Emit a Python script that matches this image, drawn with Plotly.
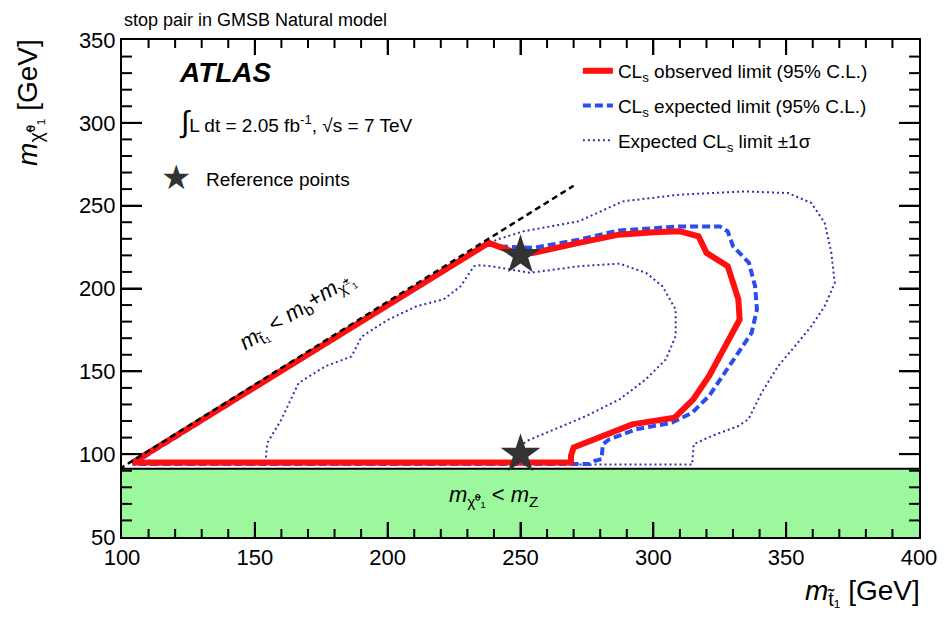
import plotly.graph_objects as go

# ---------------- data ----------------
x_range = [100, 400]
y_range = [50, 350]
m_Z = 91.2

# green excluded band (m_chi < m_Z)
band_x = [100, 400, 400, 100, 100]
band_y = [50, 50, m_Z, m_Z, 50]
mz_line_x = [100, 400]
mz_line_y = [m_Z, m_Z]

# kinematic limit m_stop < m_b + m_chargino
kin_x = [99, 270]
kin_y = [91, 262]

# observed CLs limit (95% C.L.)
obs_x = [104, 238, 250, 255, 272, 287, 300, 310, 317, 320, 328, 332, 332.5, 327, 321,
         315, 308, 292, 281, 270, 269, 269, 104]
obs_y = [95, 227.5, 220.5, 221.5, 227.5, 232.5, 234, 234.5, 231.5, 221.5, 213.5, 193.4,
         181.3, 165.2, 147.2, 133, 122, 118, 111, 104, 99, 95, 95]

# expected CLs limit (95% C.L.)
exp_x = [104, 238, 241, 255, 272, 287, 310, 325, 328, 330, 336, 338.3, 339, 337, 332,
         326, 321, 314.6, 307, 293.5, 283.5, 281, 280.5, 278, 276, 104]
exp_y = [94, 228, 225.5, 224.5, 229.5, 235, 237.5, 237.5, 234.5, 225.5, 215.5, 201.4,
         187.3, 173.3, 161.3, 147.2, 135.2, 125, 119, 115, 109, 106, 97, 96, 94, 94]

# expected limit +1 sigma (outer)
up_x = [104, 241, 251, 272, 288.5, 309.7, 334.6, 350.8, 359.5, 364.5, 367, 368.3, 364.5,
        359.5, 353.3, 347, 340.8, 335.8, 332, 322, 315.2, 314.6, 314.6, 104]
up_y = [94, 229.5, 234.5, 240.6, 252.6, 256.6, 258.6, 257.6, 251.6, 239.6, 221.5, 203.4,
        189.4, 177.3, 165.2, 153.2, 137.2, 121.1, 117, 111, 106, 95, 93.7, 93.7]

# expected limit -1 sigma (inner)
dn_x = [154, 154.7, 160, 166.5, 176.5, 186.4, 190.2, 200, 211, 221, 227.5, 232.5, 235,
        238.7, 253.6, 272.3, 287.3, 297.2, 303.4, 308.4, 308.4, 304.7, 297.2, 287.3,
        274.8, 262.4, 252.4, 250, 250, 154]
dn_y = [95, 106.7, 121, 143, 153, 159, 171, 181, 189.4, 193.4, 201.4, 213.5, 214, 213.5,
        209.5, 213.5, 215, 209.5, 201.4, 187.3, 171.3, 157.2, 145.2, 133.1, 123.1, 115,
        108, 105, 95, 95]

# reference points
ref_x = [250, 250]
ref_y = [220, 100]

x_ticks = [100, 150, 200, 250, 300, 350, 400]
y_ticks = [50, 100, 150, 200, 250, 300, 350]
x_minor_step = 10
y_minor_step = 10

FONT = "Liberation Sans"
RED = "#ff1010"
BLUE = "#2a4df0"
NAVY = "#3030b0"

fig = go.Figure()

fig.add_trace(go.Scatter(x=band_x, y=band_y, fill="toself", fillcolor="#9cf89c",
                         line=dict(width=0), mode="lines", showlegend=False, hoverinfo="skip"))
fig.add_trace(go.Scatter(x=mz_line_x, y=mz_line_y, mode="lines",
                         line=dict(color="black", width=2), showlegend=False))

fig.add_trace(go.Scatter(x=up_x, y=up_y, mode="lines", name="Expected CL<sub>s</sub> limit ±1σ",
                         line=dict(color=NAVY, width=2, dash="2px,3px"),
                         legendgroup="c", legendrank=3))
fig.add_trace(go.Scatter(x=dn_x, y=dn_y, mode="lines", showlegend=False,
                         line=dict(color=NAVY, width=2, dash="2px,3px"), legendgroup="c"))
fig.add_trace(go.Scatter(x=exp_x, y=exp_y, mode="lines",
                         name="CL<sub>s</sub> expected limit (95% C.L.)",
                         line=dict(color=BLUE, width=4, dash="8px,4px"),
                         legendgroup="b", legendrank=2))
fig.add_trace(go.Scatter(x=obs_x, y=obs_y, mode="lines",
                         name="CL<sub>s</sub> observed limit (95% C.L.)",
                         line=dict(color=RED, width=6),
                         legendgroup="a", legendrank=1))
fig.add_trace(go.Scatter(x=kin_x, y=kin_y, mode="lines", showlegend=False,
                         line=dict(color="black", width=2.5, dash="6px,4px")))
fig.add_trace(go.Scatter(x=ref_x, y=ref_y, mode="markers", showlegend=False,
                         marker=dict(symbol="star", size=30, color="#333333",
                                     line=dict(width=0))))

fig.update_layout(
    xaxis=dict(range=x_range, tickvals=x_ticks, ticks="inside", ticklen=15, tickwidth=2,
               tickcolor="black", showline=True, linecolor="black", linewidth=2,
               mirror="ticks", showgrid=False, zeroline=False,
               tickfont=dict(family=FONT, size=22, color="black")),
    yaxis=dict(range=y_range, tickvals=y_ticks, ticks="inside", ticklen=20, tickwidth=2,
               tickcolor="black", showline=True, linecolor="black", linewidth=2,
               mirror="ticks", showgrid=False, zeroline=False,
               tickfont=dict(family=FONT, size=22, color="black")),
)

# frame tick marks on all four sides (major + minor), placed through the axis scales
plot_w, plot_h = 803.0, 497.0
shapes = []
tick_line = dict(color="black", width=2)
for v in range(x_range[0] + x_minor_step, x_range[1], x_minor_step):
    ln = (15 if v in x_ticks else 8) / plot_h
    shapes.append(dict(type="line", xref="x", yref="y domain", x0=v, x1=v, y0=0, y1=ln,
                       line=tick_line, layer="above"))
    shapes.append(dict(type="line", xref="x", yref="y domain", x0=v, x1=v, y0=1, y1=1 - ln,
                       line=tick_line, layer="above"))
for v in range(y_range[0] + y_minor_step, y_range[1], y_minor_step):
    ln = (20 if v in y_ticks else 10) / plot_w
    shapes.append(dict(type="line", xref="x domain", yref="y", x0=0, x1=ln, y0=v, y1=v,
                       line=tick_line, layer="above"))
    shapes.append(dict(type="line", xref="x domain", yref="y", x0=1, x1=1 - ln, y0=v, y1=v,
                       line=tick_line, layer="above"))

ann = []
ann.append(dict(text="stop pair in GMSB Natural model", xref="paper", yref="paper",
                x=0.0, y=1.040, xanchor="left", yanchor="middle", showarrow=False,
                font=dict(family=FONT, size=18, color="black")))
ann.append(dict(text="<b><i>ATLAS</i></b>", xref="paper", yref="paper",
                x=0.069, y=0.934, xanchor="left", yanchor="middle", showarrow=False,
                font=dict(family=FONT, size=28, color="black")))
ann.append(dict(text="<span style='font-size:30px'>∫</span>L dt = 2.05 fb<sup>-1</sup>, √s = 7 TeV",
                xref="paper", yref="paper",
                x=0.069, y=0.835, xanchor="left", yanchor="middle", showarrow=False,
                font=dict(family=FONT, size=19, color="black")))
ann.append(dict(text="★", xref="paper", yref="paper",
                x=(176.7 - 122) / 803, y=(537.3 - 177) / 497.3, xanchor="center",
                yanchor="middle", showarrow=False,
                font=dict(family="DejaVu Sans", size=34, color="#333333")))
ann.append(dict(text="Reference points", xref="paper", yref="paper",
                x=(205 - 122) / 803, y=(537.3 - 180) / 497.3, xanchor="left",
                yanchor="middle", showarrow=False,
                font=dict(family=FONT, size=19, color="black")))
ann.append(dict(text="<i>m</i><sub>t̃₁</sub> < <i>m</i><sub>b</sub>+<i>m</i><sub>χ̃<sup>±</sup>₁</sub>",
                xref="paper", yref="paper", x=0.2196, y=0.4557,
                xanchor="center", yanchor="middle", textangle=-32, showarrow=False,
                font=dict(family=FONT, size=22, color="black")))
ann.append(dict(text="<i>m</i><sub>χ̃⁰₁</sub> < <i>m</i><sub>Z</sub>",
                xref="x", yref="y", x=240, y=75, xanchor="center", yanchor="middle",
                showarrow=False, font=dict(family=FONT, size=22, color="black")))
ann.append(dict(text="<i>m</i><sub>t̃₁</sub> [GeV]", xref="paper", yref="paper",
                x=1.004, y=-0.112, xanchor="right", yanchor="middle", showarrow=False,
                font=dict(family=FONT, size=28, color="black")))
ann.append(dict(text="<i>m</i><sub>χ̃⁰₁</sub> [GeV]", xref="paper", yref="paper",
                x=-0.117, y=0.875, xanchor="center", yanchor="middle", textangle=-90,
                showarrow=False, font=dict(family=FONT, size=28, color="black")))

fig.update_layout(
    width=949, height=619,
    margin=dict(l=122, r=24, t=40, b=82),
    paper_bgcolor="white", plot_bgcolor="white",
    font=dict(family=FONT, color="black"),
    annotations=ann,
    shapes=shapes,
    legend=dict(x=0.572, y=0.976, xanchor="left", yanchor="top",
                bgcolor="rgba(0,0,0,0)", font=dict(family=FONT, size=19, color="black"),
                tracegroupgap=7, itemwidth=30),
)

fig.write_html("out.html")
